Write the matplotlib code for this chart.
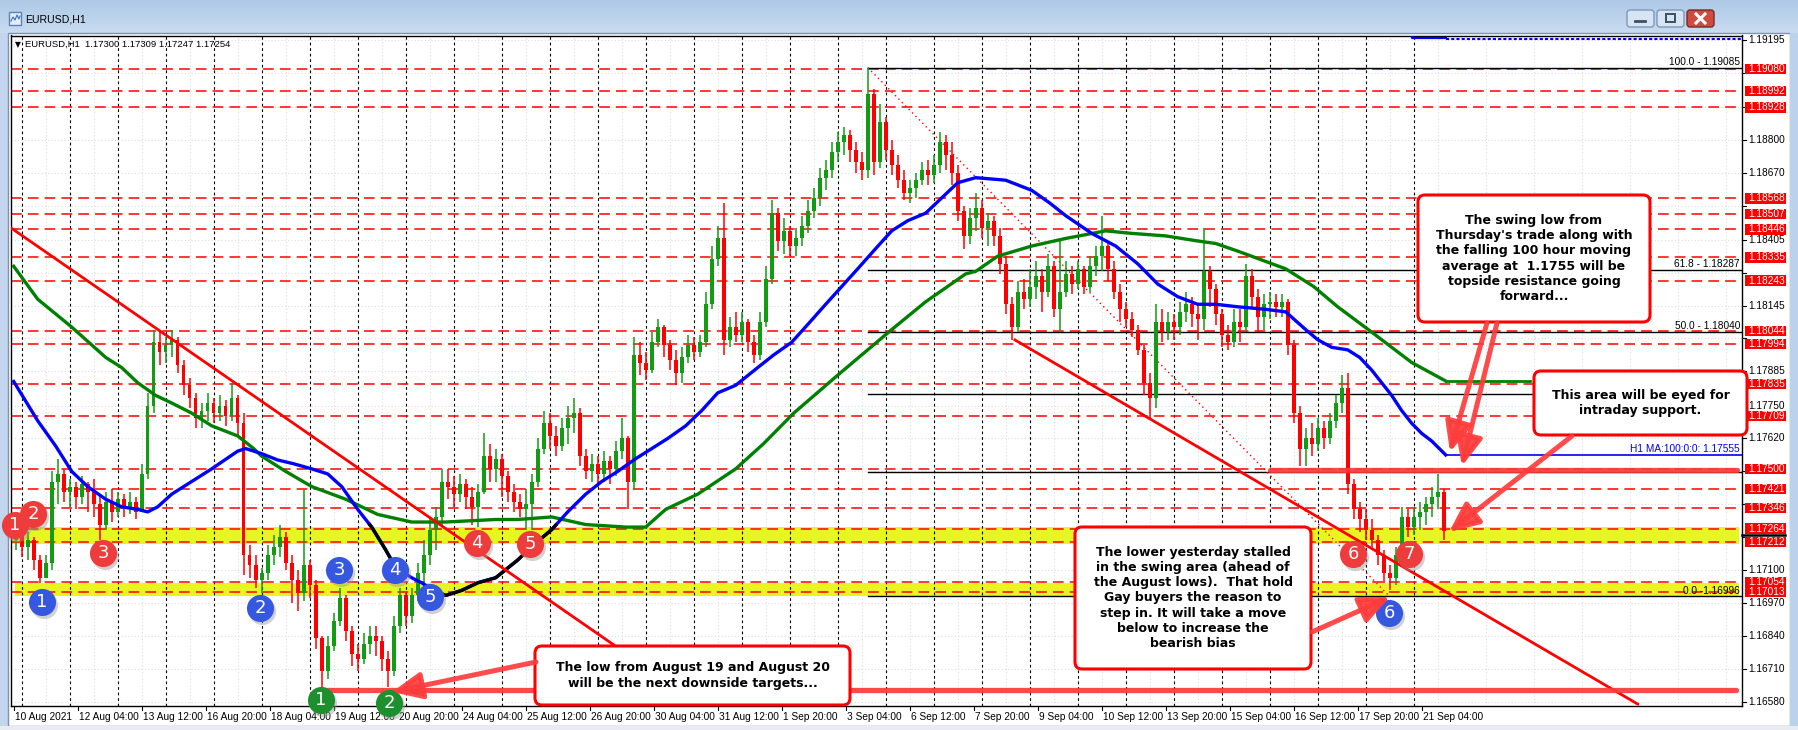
import numpy as np
import matplotlib
matplotlib.use("Agg")
import matplotlib.pyplot as plt
import matplotlib.transforms as mtransforms
from matplotlib.patches import Rectangle, FancyBboxPatch
from matplotlib.colors import LinearSegmentedColormap

W, H = 1798, 730

# ------------------------------------------------------------------ data
date_labels = ["10 Aug 2021", "12 Aug 04:00", "13 Aug 12:00", "16 Aug 20:00", "18 Aug 04:00",
               "19 Aug 12:00", "20 Aug 20:00", "24 Aug 04:00", "25 Aug 12:00", "26 Aug 20:00",
               "30 Aug 04:00", "31 Aug 12:00", "1 Sep 20:00", "3 Sep 04:00", "6 Sep 12:00",
               "7 Sep 20:00", "9 Sep 04:00", "10 Sep 12:00", "13 Sep 20:00", "15 Sep 04:00",
               "16 Sep 12:00", "17 Sep 20:00", "21 Sep 04:00"]
bars_per_label = 32
hours_per_candle = 3
first_open = 1.1722

close = [1.1724,1.1719,1.1722,1.1714,1.1707,1.1713,1.1745,1.1748,1.1741,1.1743,
         1.1739,1.1744,1.1741,1.1736,1.1728,1.1737,1.1733,1.1738,1.1735,1.1737,
         1.1733,1.1748,1.1775,1.1800,1.1796,1.1799,1.1801,1.1791,1.1783,1.1778,
         1.1770,1.1773,1.1776,1.1772,1.1775,1.1771,1.1778,1.1768,1.1716,1.1712,
         1.1706,1.1709,1.1716,1.1719,1.1723,1.1713,1.1706,1.1701,1.1712,1.1704,
         1.1683,1.1670,1.1680,1.1690,1.1699,1.1686,1.1677,1.1675,1.1681,1.1684,
         1.1682,1.1675,1.1670,1.1688,1.1700,1.1692,1.1700,1.1709,1.1716,1.1726,
         1.1731,1.1745,1.1743,1.1740,1.1744,1.1739,1.1735,1.1741,1.1755,1.1750,
         1.1754,1.1747,1.1741,1.1737,1.1734,1.1736,1.1745,1.1758,1.1768,1.1763,
         1.1759,1.1766,1.1770,1.1772,1.1755,1.1749,1.1752,1.1748,1.1753,1.1750,
         1.1757,1.1762,1.1745,1.1795,1.1792,1.1789,1.1800,1.1806,1.1799,1.1793,
         1.1788,1.1794,1.1799,1.1796,1.1800,1.1815,1.1833,1.1841,1.1801,1.1806,
         1.1803,1.1808,1.1800,1.1795,1.1808,1.1825,1.1851,1.1840,1.1844,1.1838,
         1.1841,1.1846,1.1852,1.1857,1.1865,1.1868,1.1875,1.1879,1.1882,1.1876,
         1.1871,1.1868,1.1898,1.1871,1.1887,1.1876,1.1870,1.1864,1.1859,1.1861,
         1.1864,1.1868,1.1866,1.1870,1.1879,1.1874,1.1867,1.1852,1.1842,1.1849,
         1.1853,1.1845,1.1848,1.1842,1.1831,1.1815,1.1806,1.1820,1.1817,1.1822,
         1.1826,1.1820,1.1830,1.1813,1.1820,1.1827,1.1823,1.1829,1.1822,1.1830,
         1.1834,1.1838,1.1829,1.1820,1.1813,1.1809,1.1805,1.1797,1.1784,1.1778,
         1.1808,1.1804,1.1808,1.1806,1.1812,1.1815,1.1811,1.1809,1.1828,1.1821,
         1.1811,1.1803,1.1800,1.1808,1.1806,1.1826,1.1818,1.1810,1.1815,1.1816,
         1.1814,1.1816,1.1799,1.1772,1.1758,1.1762,1.1760,1.1766,1.1762,1.1769,
         1.1776,1.1782,1.1744,1.1734,1.1730,1.1726,1.1722,1.1716,1.1709,1.1707,
         1.1716,1.1731,1.1727,1.1731,1.1733,1.1736,1.1739,1.1741,1.17254]

high = [1.1727,1.1726,1.1725,1.1723,1.1716,1.1716,1.1749,1.1754,1.1750,1.1746,
        1.1745,1.1747,1.1745,1.1746,1.1740,1.1741,1.1742,1.1741,1.1740,1.1741,
        1.1739,1.1752,1.1780,1.1805,1.1804,1.1802,1.1805,1.1802,1.1793,1.1786,
        1.1780,1.1776,1.1780,1.1778,1.1779,1.1777,1.1784,1.1779,1.1772,1.1720,
        1.1716,1.1711,1.1720,1.1724,1.1728,1.1725,1.1716,1.1710,1.1742,1.1714,
        1.1706,1.1684,1.1684,1.1693,1.1703,1.1700,1.1688,1.1681,1.1685,1.1688,
        1.1688,1.1684,1.1678,1.1692,1.1703,1.1701,1.1703,1.1713,1.1722,1.1730,
        1.1735,1.1750,1.1750,1.1747,1.1748,1.1746,1.1743,1.1744,1.1764,1.1760,
        1.1758,1.1756,1.1749,1.1744,1.1740,1.1742,1.1748,1.1762,1.1773,1.1772,
        1.1767,1.1770,1.1775,1.1778,1.1774,1.1758,1.1756,1.1755,1.1757,1.1755,
        1.1761,1.1770,1.1763,1.1802,1.1800,1.1796,1.1804,1.1809,1.1807,1.1801,
        1.1797,1.1798,1.1803,1.1802,1.1803,1.1820,1.1838,1.1846,1.1855,1.1810,
        1.1812,1.1812,1.1809,1.1803,1.1812,1.1830,1.1856,1.1853,1.1849,1.1846,
        1.1845,1.1850,1.1856,1.1861,1.1869,1.1872,1.1879,1.1883,1.1885,1.1884,
        1.1879,1.1875,1.19085,1.1900,1.1894,1.1889,1.1880,1.1874,1.1868,1.1864,
        1.1867,1.1871,1.1872,1.1874,1.1883,1.1882,1.1879,1.1870,1.1854,1.1853,
        1.1859,1.1856,1.1851,1.1850,1.1845,1.1834,1.1818,1.1824,1.1825,1.1829,
        1.1832,1.1829,1.1835,1.1832,1.1840,1.1832,1.1830,1.1832,1.1830,1.1834,
        1.1838,1.1850,1.1840,1.1832,1.1823,1.1816,1.1812,1.1807,1.1799,1.1788,
        1.1815,1.1813,1.1812,1.1811,1.1816,1.1820,1.1818,1.1815,1.1845,1.1830,
        1.1823,1.1813,1.1807,1.1813,1.1813,1.1831,1.1829,1.1821,1.1819,1.1820,
        1.1819,1.1819,1.1817,1.1801,1.1775,1.1766,1.1768,1.1770,1.1769,1.1772,
        1.1779,1.1787,1.1788,1.1746,1.1737,1.1734,1.1730,1.1724,1.1718,1.1712,
        1.1719,1.1735,1.1734,1.1735,1.1737,1.1739,1.1743,1.1748,1.1742]

low = [1.1718,1.1715,1.1714,1.1710,1.1705,1.1707,1.1710,1.1736,1.1737,1.1735,
       1.1734,1.1736,1.1733,1.1731,1.1722,1.1726,1.1729,1.1731,1.1731,1.1732,
       1.1730,1.1733,1.1746,1.1772,1.1791,1.1792,1.1794,1.1788,1.1779,1.1774,
       1.1766,1.1766,1.1769,1.1768,1.1769,1.1767,1.1769,1.1763,1.1708,1.1707,
       1.1703,1.1701,1.1706,1.1712,1.1715,1.1710,1.1697,1.1694,1.1698,1.1699,
       1.1679,1.1664,1.1667,1.1678,1.1688,1.1682,1.1672,1.1670,1.1673,1.1677,
       1.1676,1.1670,1.1664,1.1668,1.1685,1.1688,1.1689,1.1698,1.1700,1.1712,
       1.1718,1.1728,1.1738,1.1735,1.1737,1.1734,1.1728,1.1727,1.1740,1.1745,
       1.1745,1.1739,1.1737,1.1733,1.1731,1.1726,1.1726,1.1743,1.1756,1.1758,
       1.1755,1.1757,1.1760,1.1764,1.1751,1.1746,1.1745,1.1743,1.1745,1.1744,
       1.1747,1.1754,1.1734,1.1742,1.1787,1.1785,1.1788,1.1798,1.1794,1.1789,
       1.1783,1.1784,1.1792,1.1793,1.1794,1.1798,1.1813,1.1830,1.1795,1.1798,
       1.1800,1.1800,1.1796,1.1792,1.1793,1.1806,1.1823,1.1836,1.1835,1.1834,
       1.1834,1.1838,1.1843,1.1849,1.1854,1.1860,1.1865,1.1871,1.1874,1.1871,
       1.1867,1.1864,1.1865,1.1866,1.1869,1.1872,1.1866,1.1861,1.1856,1.1855,
       1.1857,1.1862,1.1862,1.1863,1.1867,1.1868,1.1862,1.1848,1.1837,1.1839,
       1.1844,1.1841,1.1838,1.1838,1.1827,1.1811,1.1801,1.1804,1.1813,1.1814,
       1.1817,1.1812,1.1818,1.1810,1.1804,1.1818,1.1819,1.1821,1.1819,1.1820,
       1.1826,1.1828,1.1824,1.1817,1.1808,1.1806,1.1802,1.1795,1.1779,1.1770,
       1.1774,1.1800,1.1801,1.1801,1.1803,1.1808,1.1806,1.1801,1.1805,1.1814,
       1.1807,1.1798,1.1797,1.1798,1.1800,1.1804,1.1813,1.1804,1.1805,1.1809,
       1.1810,1.1810,1.1795,1.1768,1.1751,1.1751,1.1755,1.1757,1.1758,1.1760,
       1.1766,1.1772,1.1740,1.1730,1.1725,1.1722,1.1718,1.1712,1.1705,1.1702,
       1.1704,1.1714,1.1723,1.1724,1.1726,1.1728,1.1731,1.1734,1.1722]

# moving averages (bar index, price)
ma100_bar = [0,12,21,29,37,46,54,62,67,72,79,87,99,112,116,124,132,140,149,157,164,172,179,186,191,
             199,204,210,216,224,232,241,252,260,269,277,286,294,302,311,319,327,336,344,352,361,
             372,380,389,397,406,414,422,431,439,447,456,464,472,481,496,509,518,526,539,551,562,
             572,582,592,601,612,626,636,646,652,659,667,673,679,684,689,694,699,704,709,716]
ma100_val = [1.17845,1.1769,1.1759,1.1749,1.1743,1.1738,1.1735,1.1734,1.1733,1.1735,1.1740,1.1744,
             1.1750,1.1757,1.1758,1.1756,1.17535,1.1752,1.1750,1.1748,1.1743,1.1734,1.1727,1.1718,
             1.1711,1.1707,1.1705,1.1702,1.1700,1.1702,1.1705,1.1707,1.1714,1.1720,1.1726,1.1733,
             1.1740,1.1745,1.1749,1.1754,1.1758,1.1762,1.1767,1.1773,1.1780,1.1783,1.1790,1.1795,
             1.1800,1.1807,1.1815,1.1822,1.1829,1.1837,1.1844,1.1848,1.1851,1.1857,1.1863,1.1865,
             1.1864,1.1860,1.1855,1.1850,1.1843,1.1838,1.1831,1.1823,1.1818,1.1815,1.1815,1.1814,
             1.1813,1.1812,1.1805,1.1801,1.1798,1.1797,1.1794,1.1789,1.1784,1.1779,1.1773,1.1768,
             1.1764,1.1761,1.17555]
ma200_bar = [0,12,29,46,54,62,71,79,89,99,112,120,124,136,149,166,182,199,216,241,252,269,286,306,
             316,326,342,361,375,390,412,439,456,476,481,492,509,526,546,559,576,592,601,612,636,
             650,662,679,699,716]
ma200_val = [1.1830,1.1817,1.1806,1.1794,1.1790,1.1784,1.1779,1.1776,1.1772,1.1767,1.1763,1.1758,
             1.1755,1.1749,1.1743,1.1738,1.1732,1.1729,1.1729,1.1730,1.1730,1.1731,1.1728,1.1727,
             1.1727,1.1734,1.1740,1.1750,1.1760,1.1772,1.1787,1.1805,1.1816,1.1827,1.1828,1.1834,
             1.1838,1.1841,1.1844,1.1843,1.1842,1.1840,1.1839,1.1836,1.1829,1.1822,1.1814,1.1804,
             1.1792,1.17847]
ma100_last = 1.17555
ma200_ext_end = 758

red_levels = [1.19080, 1.18992, 1.18928, 1.18568, 1.18507, 1.18446, 1.18335, 1.18243, 1.18044,
              1.17994, 1.17835, 1.17709, 1.17500, 1.17421, 1.17346, 1.17264, 1.17212, 1.17054, 1.17013]
axis_ticks = ["1.19195", "1.19065", "1.18930", "1.18800", "1.18670", "1.18540", "1.18405", "1.18275",
              "1.18145", "1.18015", "1.17885", "1.17750", "1.17620", "1.17490", "1.17360", "1.17230",
              "1.17100", "1.16970", "1.16840", "1.16710", "1.16580"]
fib_start_bar = 427
fib_high, fib_low = 1.19085, 1.16996
fib_ratios = [1.0, 0.618, 0.5, 0.382, 0.236, 0.0]
fib_texts = {1.0: "100.0 - 1.19085", 0.618: "61.8 - 1.18287", 0.5: "50.0 - 1.18040", 0.0: "0.0 -1.16996"}
fib_low_bar = 688

trend_upper = ([-2, 343], [1.18455, 1.16570])
trend_lower = ([500.65, 812], [1.18009, 1.16571])
support_lines = [([154, 861], 1.16627), ([628, 861.5], 1.17497)]
yellow_zones = [(-1.35, 1.17203, 1.17270), (0.65, 1.16998, 1.17050)]
black_ma_segments = [(178, 189), (209, 271)]

red_circles = [(0.6, 1.17278, "1"), (9.8, 1.17321, "2"), (44.8, 1.17167, "3"), (231.8, 1.17206, "4"),
               (258.2, 1.17202, "5"), (669.8, 1.17163, "6"), (697.6, 1.17163, "7")]
blue_circles = [(14, 1.16975, "1"), (123.2, 1.16949, "2"), (162.8, 1.17101, "3"), (190.6, 1.17101, "4"),
                (208.2, 1.16995, "5"), (687.8, 1.16932, "6")]
green_circles = [(153.6, 1.16587, "1"), (187.6, 1.16574, "2")]

# ------------------------------------------------------------------ figure
fig = plt.figure(figsize=(W / 100, H / 100), dpi=100)
fig.patch.set_facecolor("#c3d6ed")

bg = fig.add_axes([0, 0, 1, 1], zorder=0)
bg.set_xlim(0, W); bg.set_ylim(H, 0); bg.axis("off")
grad = np.linspace(0, 1, 50).reshape(-1, 1)
bg.imshow(grad, extent=(0, W, 33, 0), aspect="auto",
          cmap=LinearSegmentedColormap.from_list("tb", ["#aec8e6", "#c9dcf1"]), zorder=0)
bg.add_patch(Rectangle((8, 33), 1782, 693, fc="white", ec="#7f93ab", lw=1, zorder=1))
bg.add_patch(Rectangle((1790, 33), 8, 693, fc="#bcd2ec", ec="none", zorder=1))
bg.add_patch(Rectangle((0, 726), W, 4, fc="#e8ecf2", ec="none", zorder=1))
bg.add_patch(Rectangle((9, 12), 12, 13, fc="#e3eefa", ec="#5b82b8", lw=1, zorder=2))
bg.plot([11, 13, 15, 17, 19, 20], [21, 17, 20, 15, 19, 16], color="#3d6fb5", lw=0.8, zorder=3)
bg.text(25, 19, "EURUSD,H1", fontsize=7.6, family="Liberation Sans", va="center", ha="left", zorder=3)
for bx, fc, ec in [(1627, "#d7e4f3", "#7d98b9"), (1657, "#d7e4f3", "#7d98b9"), (1687, "#cd4b40", "#7b2a24")]:
    bg.add_patch(FancyBboxPatch((bx, 10), 27, 17, boxstyle="round,pad=0,rounding_size=3",
                                fc=fc, ec=ec, lw=1, zorder=2))
bg.plot([1635, 1645], [21, 21], color="#3f4f63", lw=2, zorder=3)
bg.add_patch(Rectangle((1666, 14), 9, 8, fc="none", ec="#3f4f63", lw=1.4, zorder=3))
bg.plot([1696, 1705], [14, 23], color="white", lw=2.2, zorder=3)
bg.plot([1696, 1705], [23, 14], color="white", lw=2.2, zorder=3)

X0, X1, Y0, Y1 = 11, 1742, 35.5, 706
ax = fig.add_axes([X0 / W, 1 - Y1 / H, (X1 - X0) / W, (Y1 - Y0) / H], zorder=1)
ax.set_facecolor("white")
XMIN, XMAX = -1.35, 864.15
YMIN, YMAX = 1.165634, 1.192115
ax.set_xlim(XMIN, XMAX); ax.set_ylim(YMIN, YMAX)
ax.set_xticks([]); ax.set_yticks([])
for s in ax.spines.values():
    s.set_color("black"); s.set_linewidth(1)

# grid
tick_vals = [float(t) for t in axis_ticks]
for tv in tick_vals:
    ax.axhline(tv, color="#dedede", lw=0.8, ls=(0, (1, 2)), zorder=0.5)
for g in range(16, 870, 24):
    ax.axvline(g, color="#dedede", lw=0.8, ls=(0, (1, 2)), zorder=0.5)
for d in range(30):
    ax.axvline(4 + 24 * d, color="black", lw=0.8, ls=(0, (2.5, 2.5)), zorder=1.5)

# yellow zones
for x0, lo, hi in yellow_zones:
    ax.add_patch(Rectangle((x0, lo), 862.7 - x0, hi - lo, fc="#e8f520", ec="none", zorder=1))

# red dashed levels
for lv in red_levels:
    ax.plot([XMIN, 861.5], [lv, lv], color="#ff0000", lw=1.1, ls=(0, (7, 4)), zorder=2)

# fibonacci
for r in fib_ratios:
    lv = fib_low + r * (fib_high - fib_low)
    ax.plot([fib_start_bar, XMAX], [lv, lv], color="black", lw=1, zorder=2.2)
    if r in fib_texts:
        ax.text(863.2, lv + 0.00003, fib_texts[r], fontsize=7.3, family="Liberation Sans",
                ha="right", va="bottom", zorder=2.3)
ax.plot([fib_start_bar, fib_low_bar], [fib_high, fib_low], color="#ff0000", lw=1,
        ls=(0, (1, 2.5)), zorder=2.2)

# candles
c = np.array(close); hgh = np.array(high); lw_ = np.array(low)
o = np.r_[first_open, c[:-1]]
hgh = np.maximum(hgh, np.maximum(o, c)); lw_ = np.minimum(lw_, np.minimum(o, c))
xk = np.arange(len(c)) * hours_per_candle + 1
cols = np.where(c >= o, "#119c11", "#ff0000")
ax.vlines(xk, lw_, hgh, colors=cols, lw=1.1, zorder=3)
ax.bar(xk, np.maximum(np.abs(c - o), 0.00005), bottom=np.minimum(o, c), width=1.8,
       color=cols, linewidth=0, zorder=3)

# moving averages
ax.plot(ma200_bar, ma200_val, color="#008000", lw=2.4, zorder=4, solid_joinstyle="round")
ax.plot([ma200_bar[-1], ma200_ext_end], [ma200_val[-1], ma200_val[-1]], color="#008000", lw=2.0, zorder=4)
ax.plot(ma100_bar, ma100_val, color="#0000ff", lw=2.4, zorder=4.1, solid_joinstyle="round")
mb = np.array(ma100_bar); mv = np.array(ma100_val)
for a, b in black_ma_segments:
    sel = (mb > a) & (mb < b)
    xs = np.r_[a, mb[sel], b]
    ys = np.interp(xs, mb, mv)
    ax.plot(xs, ys, color="black", lw=2.4, zorder=4.2)
ax.plot([ma100_bar[-1], XMAX], [ma100_last, ma100_last], color="#0000ff", lw=1.2, zorder=4)
ax.text(863.2, ma100_last + 0.00004, "H1 MA:100:0:0: 1.17555", color="#0000ff", fontsize=7.3,
        family="Liberation Sans", ha="right", va="bottom", zorder=4)
ax.plot([699, 699, 716], [1.19212, 1.19200, 1.19200], color="#0000ff", lw=1.6, zorder=4)
ax.plot([716, XMAX], [1.19196, 1.19196], color="#0000ff", lw=1.5, ls=(0, (1.5, 1)), zorder=4)
ax.text(862, 1.19205, "D1 MA:100:0:0: 1.19156", color="#0000ff", fontsize=7.3,
        family="Liberation Sans", ha="right", va="bottom", zorder=4, clip_on=True)

# trendlines
ax.plot(*trend_upper, color="#ff0000", lw=2.0, zorder=4.5)
ax.plot(*trend_lower, color="#ff0000", lw=2.0, zorder=4.5)
for xs, lv in support_lines:
    ax.plot(xs, [lv, lv], color="#ff3838", lw=3.8, alpha=0.92, solid_capstyle="round", zorder=5)

# numbered circles
shadow = mtransforms.offset_copy(ax.transData, fig=fig, x=2, y=-3, units="dots")
for group, colr in [(red_circles, "#ee3b3b"), (blue_circles, "#3658e0"), (green_circles, "#1d8f2c")]:
    for bi, pv, lab in group:
        ax.plot(bi, pv, "o", ms=19.5, mfc="#9a9a9a", mec="none", alpha=0.45, transform=shadow,
                zorder=6, clip_on=False)
        ax.plot(bi, pv, "o", ms=19.5, mfc=colr, mec="none", zorder=6.1, clip_on=False)
        ax.text(bi, pv, lab, color="white", fontsize=13, family="DejaVu Sans", ha="center",
                va="center", zorder=6.2, clip_on=False)

# header
ax.text(0.0025, 0.987, "\u25bc", transform=ax.transAxes, fontsize=5.5, family="DejaVu Sans",
        va="center", ha="left")
ax.text(0.008, 0.987, "EURUSD,H1  1.17300 1.17309 1.17247 1.17254", transform=ax.transAxes,
        fontsize=6.8, family="Liberation Sans", va="center", ha="left")

# right price axis
yx = mtransforms.blended_transform_factory(ax.transAxes, ax.transData)
for t, tv in zip(axis_ticks, tick_vals):
    ax.plot([1.0, 1.0025], [tv, tv], color="black", lw=0.8, transform=yx, clip_on=False)
    if min(abs(tv - lv) for lv in red_levels) < 0.00032:
        continue  # covered by a red level label
    ax.text(1.0035, tv, t, fontsize=7.3, family="Liberation Sans", va="center", ha="left",
            transform=yx, clip_on=False, zorder=8)
ax.plot([1.0, 1.025], [1.1724, 1.1724], color="black", lw=1.8, transform=yx, clip_on=False, zorder=8.5)
lab_h = 10.5 / 25320
for lv in red_levels:
    ax.add_patch(Rectangle((1.0017, lv - lab_h / 2), 0.0239, lab_h, transform=yx, fc="#ff0000",
                           ec="none", clip_on=False, zorder=9))
    ax.text(1.0035, lv, f"{lv:.5f}", color="white", fontsize=7.3, family="Liberation Sans",
            va="center", ha="left", transform=yx, clip_on=False, zorder=10)

# date axis
xb = mtransforms.blended_transform_factory(ax.transData, ax.transAxes)
for k, lab in enumerate(date_labels):
    xi = k * bars_per_label
    ax.plot([xi, xi], [0, -0.006], color="black", lw=0.8, transform=xb, clip_on=False)
    ax.text(xi + 0.6, -0.0165, lab, fontsize=7.3, family="Liberation Sans", va="center",
            ha="left", transform=xb, clip_on=False)

# ------------------------------------------------------------------ annotations (pixel overlay)
ov = fig.add_axes([0, 0, 1, 1], zorder=3)
ov.set_xlim(0, W); ov.set_ylim(H, 0); ov.axis("off"); ov.patch.set_alpha(0)

arrow_kw = dict(arrowstyle="-|>,head_length=1.0,head_width=0.45", lw=3.6, color="#ff3c3c",
                alpha=0.92, mutation_scale=18, shrinkA=0, shrinkB=0)
for tail, head in [((536, 662), (392, 692)), ((1312, 632), (1390, 597)), ((1572, 436), (1449, 532)),
                   ((1487, 323), (1450, 452)), ((1497, 323), (1462, 466))]:
    ov.annotate("", xy=head, xytext=tail, arrowprops=arrow_kw, zorder=8)

boxes = [((535, 646, 315, 59), "The low from August 19 and August 20\nwill be the next downside targets..."),
         ((1418, 195, 232, 127), "The swing low from\nThursday's trade along with\nthe falling 100 hour moving\n"
                                 "average at  1.1755 will be\ntopside resistance going\nforward..."),
         ((1534, 371, 213, 64), "This area will be eyed for\nintraday support."),
         ((1075, 527, 236, 142), "The lower yesterday stalled\nin the swing area (ahead of\nthe August lows).  That hold\n"
                                 "Gay buyers the reason to\nstep in. It will take a move\nbelow to increase the\nbearish bias")]
for (bx, by, bw, bh), txt in boxes:
    ov.add_patch(FancyBboxPatch((bx, by), bw, bh, boxstyle="round,pad=0,rounding_size=7",
                                fc="white", ec="#ff0000", lw=2.2, zorder=7))
    ov.text(bx + bw / 2, by + bh / 2, txt, ha="center", va="center", fontsize=9, fontweight="bold",
            family="DejaVu Sans", linespacing=1.23, multialignment="center", zorder=7.5)

fig.savefig("out.png", dpi=100, facecolor=fig.get_facecolor())
